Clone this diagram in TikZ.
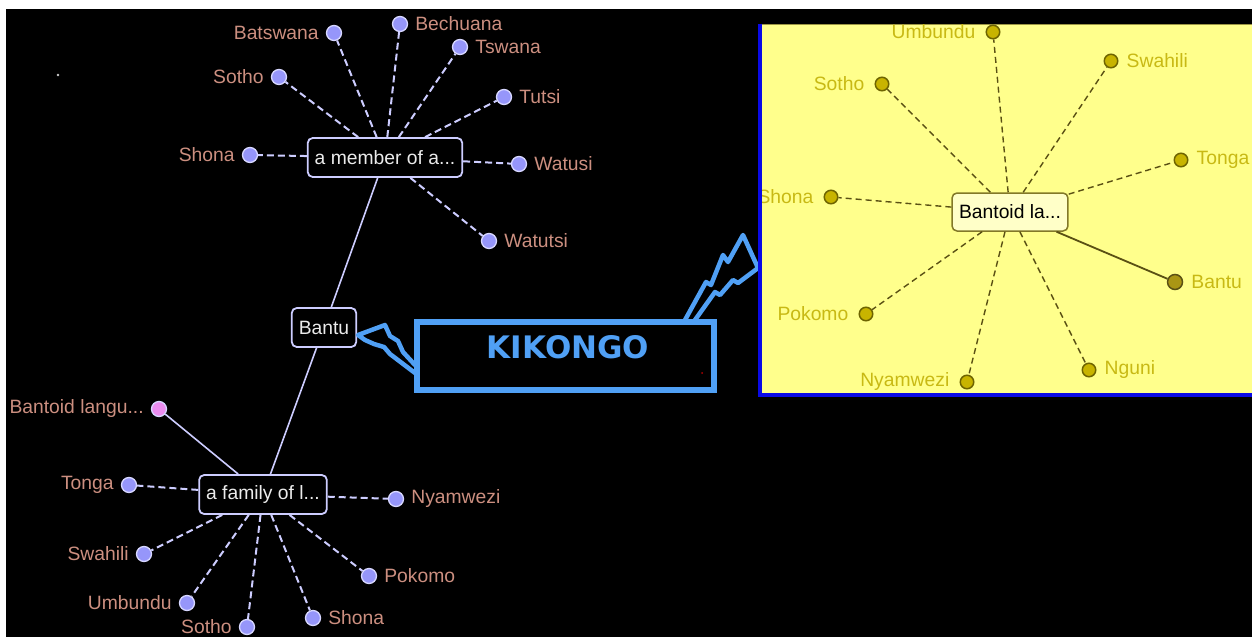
\documentclass[tikz,border=0pt]{standalone}
\usepackage{fontspec}
\setmainfont{Liberation Sans}
\newfontfamily\kfont{DejaVu Sans}
\definecolor{labc}{RGB}{204,143,128}
\definecolor{dotc}{RGB}{150,150,250}
\definecolor{dotol}{RGB}{215,215,255}
\definecolor{linec}{RGB}{205,205,255}
\definecolor{pinkc}{RGB}{235,140,240}
\definecolor{ybg}{RGB}{255,255,140}
\definecolor{ylab}{RGB}{200,185,20}
\definecolor{ydot}{RGB}{200,180,0}
\definecolor{ydotol}{RGB}{110,100,0}
\definecolor{ybantu}{RGB}{170,150,20}
\definecolor{yline}{RGB}{90,80,20}
\definecolor{yboxfill}{RGB}{255,255,200}
\definecolor{yboxdraw}{RGB}{130,120,40}
\definecolor{kblue}{RGB}{80,160,245}
\definecolor{pblue}{RGB}{10,10,230}
\newcommand{\lblfont}{\fontsize{19.3}{21}\selectfont}
\begin{document}
\begin{tikzpicture}[x=1pt,y=-1pt,
  mbox/.style={draw=linec,line width=1.8pt,rounded corners=5pt,fill=black,text=white!92!black,font=\lblfont,inner xsep=7pt,inner ysep=0pt,minimum height=39pt},
  ybox/.style={draw=yboxdraw,line width=1.5pt,rounded corners=5pt,fill=yboxfill,text=black,font=\lblfont,inner xsep=7pt,inner ysep=0pt,minimum height=38pt},
  ldot/.style={circle,fill=dotc,draw=dotol,line width=1.3pt,minimum size=15pt,inner sep=0pt},
  pdot/.style={ldot,fill=pinkc},
  ydotst/.style={circle,fill=ydot,draw=ydotol,line width=1.5pt,minimum size=13.5pt,inner sep=0pt},
  mlab/.style={text=labc,font=\lblfont,inner sep=2pt},
  mL/.style={mlab,xshift=-5pt},
  mR/.style={mlab,xshift=5pt},
  ylabst/.style={text=ylab,font=\lblfont,inner sep=2pt},
  yL/.style={ylabst,xshift=-8pt},
  yR/.style={ylabst,xshift=6pt},
  dline/.style={draw=linec,line width=2pt,dash pattern=on 7pt off 4pt},
  sline/.style={draw=linec,line width=1.6pt},
  ydline/.style={draw=yline,line width=1.4pt,dash pattern=on 6pt off 4pt},
  ysline/.style={draw=yline,line width=1.8pt},
  bolt/.style={draw=kblue,line width=4.5pt,line join=round,line cap=round}
]
\useasboundingbox (0,0) rectangle (1252,637);
\fill[white] (0,0) rectangle (1252,637);
\fill[black] (6,9) rectangle (1252,637);
\fill[white!80!black] (58,75) circle (1.3);
\fill[red!70!black] (702,373) circle (1);

% ---- main graph boxes
\node[mbox] (mb) at (385,157.5) {a member of a...};
\node[mbox] (bantu) at (324,327.5) {Bantu};
\node[mbox] (fam) at (263,494.5) {a family of l...};

% ---- main graph leaves
\node[ldot,label={[mL]left:Batswana}] (batswana) at (334,33) {};
\node[ldot,label={[mR]right:Bechuana}] (bechuana) at (400,24) {};
\node[ldot,label={[mR]right:Tswana}] (tswana) at (460,47) {};
\node[ldot,label={[mL]left:Sotho}] (sothoA) at (279,77) {};
\node[ldot,label={[mR]right:Tutsi}] (tutsi) at (504,97) {};
\node[ldot,label={[mL]left:Shona}] (shonaA) at (250,155) {};
\node[ldot,label={[mR]right:Watusi}] (watusi) at (519,164) {};
\node[ldot,label={[mR]right:Watutsi}] (watutsi) at (489,241) {};
\node[pdot,label={[mL]left:Bantoid langu...}] (bantoid) at (159,409) {};
\node[ldot,label={[mL]left:Tonga}] (tongaA) at (129,485) {};
\node[ldot,label={[mR]right:Nyamwezi}] (nyamA) at (396,499) {};
\node[ldot,label={[mL]left:Swahili}] (swahA) at (144,554) {};
\node[ldot,label={[mR]right:Pokomo}] (pokA) at (369,576) {};
\node[ldot,label={[mL]left:Umbundu}] (umbA) at (187,603) {};
\node[ldot,label={[mL]left:Sotho}] (sothoB) at (247,627) {};
\node[ldot,label={[mR]right:Shona}] (shonaB) at (313,618) {};

\foreach \n in {batswana,bechuana,tswana,sothoA,tutsi,shonaA,watusi,watutsi}
  \path[dline] (mb) -- (\n);
\foreach \n in {tongaA,nyamA,swahA,pokA,umbA,sothoB,shonaB}
  \path[dline] (fam) -- (\n);
\path[sline] (mb) -- (bantu);
\path[sline] (bantu) -- (fam);
\path[sline] (bantoid) -- (fam);

% ---- KIKONGO callout
\node[draw=kblue,line width=5.5pt,minimum width=297pt,minimum height=68pt,inner sep=0pt] (kbox) at (565.5,356) {};
\node[text=kblue,font={\kfont\bfseries\fontsize{31}{32}\selectfont}] (ktext) at (568,347) {KIKONGO};
\draw[bolt] (415,365) -- (403,352) -- (398,341) -- (390,336) -- (385,325) -- (358,335) -- (365,340) -- (374,344) -- (384,347) -- (390,354) -- (415,373);
\draw[bolt] (685,320) -- (706,282) -- (711,285) -- (723,255) -- (728,262) -- (743,235) -- (758,268) -- (738,283) -- (733,280) -- (720,295) -- (715,292) -- (695,320);

% ---- yellow panel
\fill[ybg] (760,24) rectangle (1252,395);
\draw[yline!60!ybg,line width=0.8pt] (760,24.4) -- (1252,24.4);
\begin{scope}
\clip (760,24) rectangle (1252,395);
\node[ybox] (ycen) at (1010,212) {Bantoid la...};
\node[ydotst,label={[yL]left:Umbundu}] (umbY) at (993,32) {};
\node[ydotst,label={[yR]right:Swahili}] (swahY) at (1111,61) {};
\node[ydotst,label={[yL]left:Sotho}] (sothoY) at (882,84) {};
\node[ydotst,label={[yR]right:Tonga}] (tongaY) at (1181,160) {};
\node[ydotst,label={[yL]left:Shona}] (shonaY) at (831,197) {};
\node[ydotst,fill=ybantu,draw=yline,minimum size=15pt,label={[yR]right:Bantu}] (bantuY) at (1175,282) {};
\node[ydotst,label={[yL]left:Pokomo}] (pokY) at (866,314) {};
\node[ydotst,label={[yR]right:Nguni}] (nguniY) at (1089,370) {};
\node[ydotst,label={[yL]left:Nyamwezi}] (nyamY) at (967,382) {};
\foreach \n in {umbY,swahY,sothoY,tongaY,shonaY,pokY,nguniY,nyamY}
  \path[ydline] (ycen) -- (\n);
\path[ysline] (ycen) -- (bantuY);
\end{scope}
\draw[pblue,line width=4.5pt] (760,24) -- (760,395) -- (1252,395);
\end{tikzpicture}
\end{document}
